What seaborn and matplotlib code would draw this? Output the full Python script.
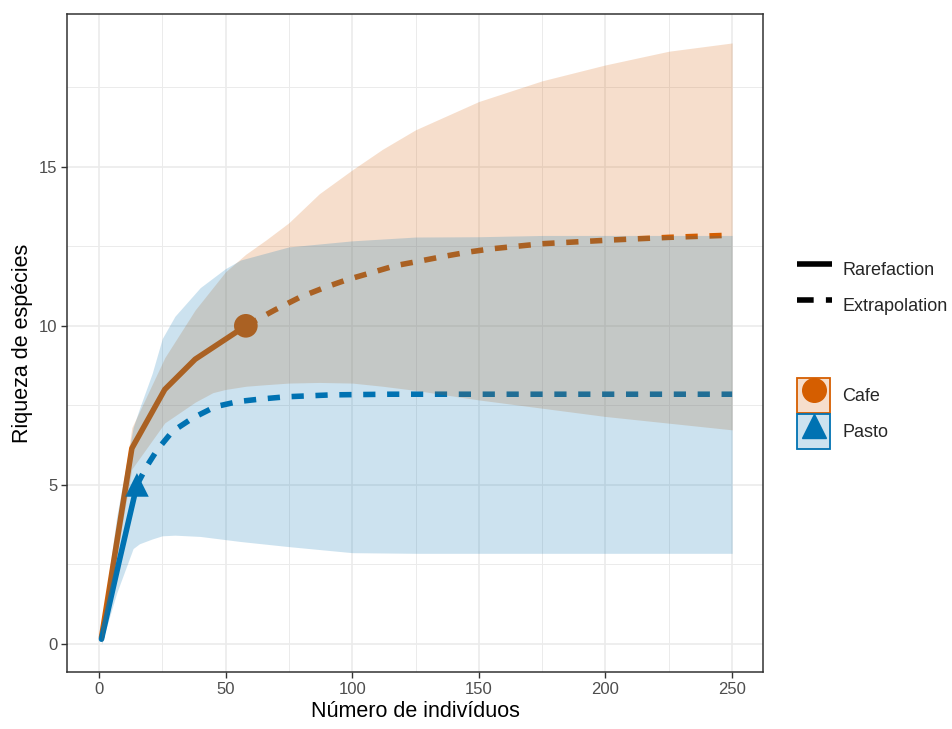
import matplotlib
matplotlib.use("Agg")
import matplotlib.pyplot as plt
import seaborn as sns
import pandas as pd
from matplotlib.lines import Line2D
from matplotlib.patches import Patch
from matplotlib.ticker import MultipleLocator

# ---------------- data ----------------
sites = ["Cafe", "Pasto"]
colors = {"Cafe": "#D55E00", "Pasto": "#0072B2"}
markers = {"Cafe": "o", "Pasto": "^"}

cafe_rare_x = [1, 13, 26, 38, 58]
cafe_rare_y = [0.2, 6.15, 8.0, 8.95, 10.0]
cafe_ext_x = [58, 69.5, 79.4, 89, 98, 108, 117, 127, 136, 146, 155, 175, 203, 225, 250]
cafe_ext_y = [10.0, 10.5, 10.9, 11.2, 11.45, 11.68, 11.89, 12.04, 12.18, 12.32, 12.42,
              12.58, 12.7, 12.78, 12.85]

pasto_rare_x = [1, 8, 15]
pasto_rare_y = [0.15, 2.6, 5.0]
pasto_ext_x = [15, 19, 23, 29, 37, 46, 55, 64, 74, 92, 115, 150, 200, 250]
pasto_ext_y = [5.0, 5.6, 6.1, 6.68, 7.1, 7.46, 7.62, 7.7, 7.77, 7.83, 7.85, 7.85, 7.85, 7.85]

cafe_ci_x = [1, 13, 26, 38, 45, 50, 58, 66, 75, 87, 100, 112, 125, 150, 175, 200, 225, 250]
cafe_lo = [0.0, 5.5, 6.95, 7.6, 7.9, 8.0, 8.1, 8.15, 8.2, 8.22, 8.2, 8.1, 7.97, 7.67,
           7.41, 7.15, 6.94, 6.73]
cafe_hi = [0.6, 6.8, 9.0, 10.5, 11.2, 11.7, 12.25, 12.7, 13.24, 14.15, 14.9, 15.55, 16.16,
           17.05, 17.7, 18.2, 18.63, 18.89]

pasto_ci_x = [1, 7, 13.5, 16, 21, 25, 30, 40, 50, 56, 75, 100, 125, 150, 175, 200, 250]
pasto_lo = [0.0, 1.6, 3.0, 3.15, 3.3, 3.4, 3.42, 3.38, 3.28, 3.22, 3.06, 2.87, 2.85,
            2.85, 2.85, 2.85, 2.85]
pasto_hi = [0.5, 4.0, 6.8, 7.4, 8.5, 9.6, 10.3, 11.2, 11.8, 12.07, 12.48, 12.67, 12.79,
            12.8, 12.84, 12.84, 12.84]

obs_x = [58, 15]
obs_y = [10.0, 5.0]

x_ticks = [0, 50, 100, 150, 200, 250]
y_ticks = [0, 5, 10, 15]

# ---------------- build tables ----------------
rows = []
for s, rx, ry, ex, ey in [("Cafe", cafe_rare_x, cafe_rare_y, cafe_ext_x, cafe_ext_y),
                          ("Pasto", pasto_rare_x, pasto_rare_y, pasto_ext_x, pasto_ext_y)]:
    for x, y in zip(rx, ry):
        rows.append((s, "Rarefaction", x, y))
    for x, y in zip(ex, ey):
        rows.append((s, "Extrapolation", x, y))
df = pd.DataFrame(rows, columns=["site", "method", "m", "S"])
ci = {"Cafe": pd.DataFrame({"m": cafe_ci_x, "lo": cafe_lo, "hi": cafe_hi}),
      "Pasto": pd.DataFrame({"m": pasto_ci_x, "lo": pasto_lo, "hi": pasto_hi})}
obs = pd.DataFrame({"site": sites, "m": obs_x, "S": obs_y})

# ---------------- plot ----------------
sns.set_theme(style="white")
plt.rcParams['font.family'] = ['Liberation Sans', 'DejaVu Sans']

fig = plt.figure(figsize=(9.52, 7.29), dpi=100)
ax = fig.add_axes([0.0704, 0.0782, 0.8015 - 0.0704, 0.9808 - 0.0782])

lw = 4.0
dash = [2.2, 2.1]
for s in sites:
    sub = df[(df.site == s) & (df.method == "Rarefaction")]
    sns.lineplot(data=sub, x="m", y="S", ax=ax, color=colors[s], lw=lw,
                 estimator=None, sort=False, legend=False, zorder=3)
    sub = df[(df.site == s) & (df.method == "Extrapolation")]
    sns.lineplot(data=sub, x="m", y="S", ax=ax, color=colors[s], lw=lw,
                 estimator=None, sort=False, legend=False, zorder=3)
    ax.lines[-1].set_dashes(dash)
    ax.lines[-1].set_dash_capstyle("butt")
for s in sites:
    o = obs[obs.site == s]
    sns.scatterplot(data=o, x="m", y="S", ax=ax, color=colors[s],
                    marker=markers[s], s=290, edgecolor="none",
                    legend=False, zorder=4)
for s in sites:
    c = ci[s]
    ax.fill_between(c["m"], c["lo"], c["hi"], color=colors[s], alpha=0.2,
                    lw=0, zorder=5)

ax.set_xlim(-12.6, 262.2)
ax.set_ylim(-0.88, 19.8)
ax.set_xticks(x_ticks)
ax.set_yticks(y_ticks)
ax.xaxis.set_minor_locator(MultipleLocator(25))
ax.yaxis.set_minor_locator(MultipleLocator(2.5))
ax.grid(True, which="major", color="#EBEBEB", lw=1.2, zorder=0)
ax.grid(True, which="minor", color="#EBEBEB", lw=0.7, zorder=0)
ax.set_axisbelow(True)
for sp in ax.spines.values():
    sp.set_color("#333333")
    sp.set_linewidth(1.1)
ax.tick_params(axis="both", which="major", length=4, width=1, color="#333333",
               labelsize=12, labelcolor="#4D4D4D", bottom=True, left=True, pad=3)
ax.tick_params(axis="both", which="minor", length=0)
ax.set_xlabel("Número de indivíduos", fontsize=15.5, color="black", labelpad=3)
ax.set_ylabel("Riqueza de espécies", fontsize=15.5, color="black", labelpad=4)

# legends
lt_handles = [Line2D([], [], color="black", lw=4.0, solid_capstyle="butt"),
              Line2D([], [], color="black", lw=4.0, dashes=[3.0, 2.2],
                     dash_capstyle="butt")]
leg1 = fig.legend(lt_handles, ["Rarefaction", "Extrapolation"],
                  loc="upper left", bbox_to_anchor=(797 / 952, 1 - 252.5 / 729),
                  frameon=False, fontsize=13, handlelength=1.95, handleheight=2.6,
                  handletextpad=0.55, labelspacing=0.05, borderpad=0,
                  borderaxespad=0)
col_handles = []
for s in sites:
    p = Patch(facecolor=colors[s], alpha=0.2, edgecolor="none")
    pe = Patch(facecolor="none", edgecolor=colors[s], lw=1.3)
    mk = Line2D([], [], color=colors[s], marker=markers[s], ls="none", markersize=17)
    col_handles.append((p, pe, mk))
leg2 = fig.legend(col_handles, sites, loc="upper left",
                  bbox_to_anchor=(797 / 952, 1 - 378.5 / 729), frameon=False,
                  fontsize=13, handlelength=1.85, handleheight=2.6,
                  handletextpad=0.65, labelspacing=0.05, borderpad=0,
                  borderaxespad=0)

fig.savefig("out.png", dpi=100)
